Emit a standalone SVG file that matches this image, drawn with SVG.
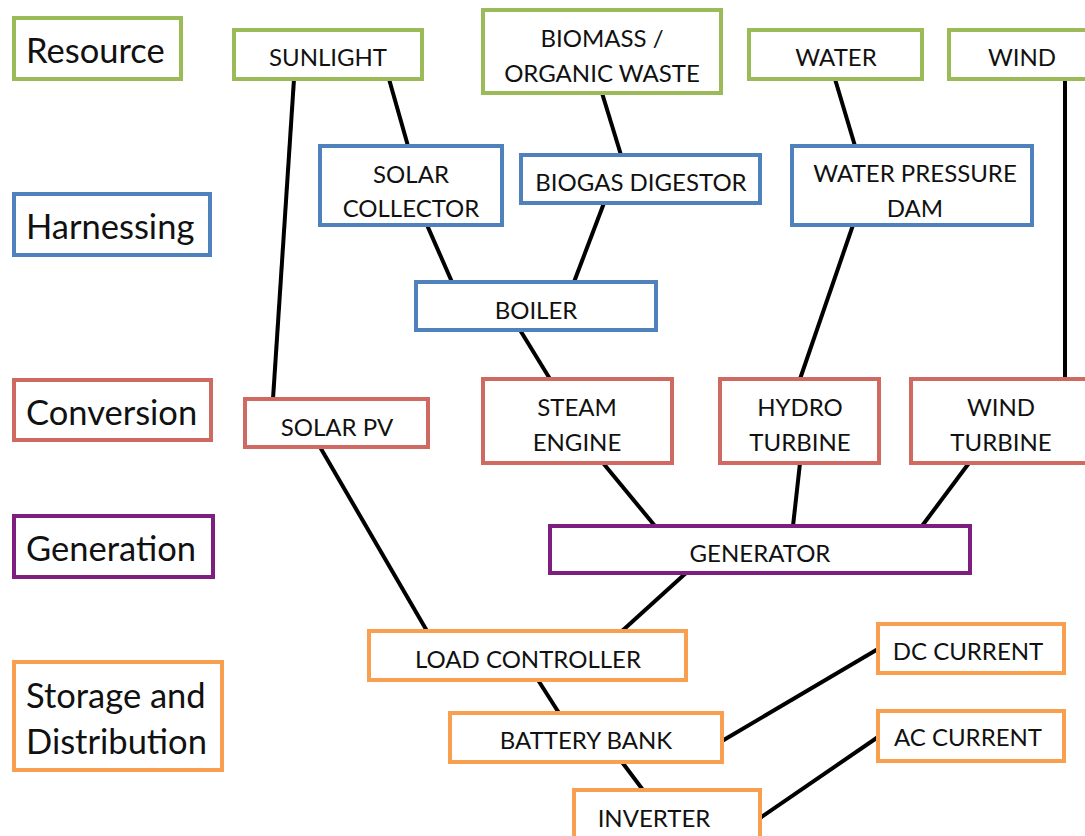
<svg xmlns="http://www.w3.org/2000/svg" width="1085" height="836" viewBox="0 0 1085 836">
<style>
rect{fill:#fff;stroke-width:4}
.g{stroke:#9BBB59}.b{stroke:#4F81BD}.r{stroke:#CF6A62}.p{stroke:#7E1F7F}.o{stroke:#F9A050}
text{font-family:Lato,"Open Sans",sans-serif;fill:#111;text-anchor:middle}
.c{font-size:34.5px;text-anchor:start}
.n{font-size:24px}
#connectors line{stroke:#000;stroke-width:4}
</style>
<rect width="1085" height="836" style="fill:#fff;stroke:none"/>
<g id="connectors">
<line x1="294" y1="79" x2="273" y2="399"/>
<line x1="389" y1="79" x2="408" y2="146"/>
<line x1="602" y1="93" x2="621" y2="155"/>
<line x1="835" y1="79" x2="855" y2="146"/>
<line x1="1065" y1="79" x2="1065" y2="379"/>
<line x1="427" y1="225" x2="452" y2="282"/>
<line x1="604" y1="203" x2="574" y2="282"/>
<line x1="520" y1="330" x2="550" y2="379"/>
<line x1="853" y1="225" x2="800" y2="379"/>
<line x1="603" y1="463" x2="655" y2="526"/>
<line x1="800" y1="463" x2="793" y2="526"/>
<line x1="969" y1="463" x2="922" y2="526"/>
<line x1="320" y1="447" x2="427" y2="631"/>
<line x1="686" y1="573" x2="622" y2="631"/>
<line x1="538" y1="680" x2="559" y2="713"/>
<line x1="722" y1="741" x2="878" y2="649"/>
<line x1="622" y1="762" x2="643" y2="790"/>
<line x1="760" y1="818" x2="878" y2="737"/>
</g>
<g id="cat-resource"><rect class="g" x="14" y="18" width="167" height="61"/><text class="c" x="26" y="63">Resource</text></g>
<g id="cat-harnessing"><rect class="b" x="14" y="194" width="196" height="61"/><text class="c" x="26" y="239">Harnessing</text></g>
<g id="cat-conversion"><rect class="r" x="14" y="380" width="197" height="60"/><text class="c" x="26" y="425">Conversion</text></g>
<g id="cat-generation"><rect class="p" x="14" y="516" width="199" height="61"/><text class="c" x="26" y="561">Generation</text></g>
<g id="cat-storage"><rect class="o" x="14" y="662" width="208" height="108"/><text class="c" x="26" y="708">Storage and</text><text class="c" x="26" y="754">Distribution</text></g>

<g id="sunlight"><rect class="g" x="234" y="30" width="188" height="49"/><text class="n" x="328" y="66">SUNLIGHT</text></g>
<g id="biomass"><rect class="g" x="483" y="10" width="238" height="83"/><text class="n" x="602" y="47">BIOMASS /</text><text class="n" x="602" y="82">ORGANIC WASTE</text></g>
<g id="water"><rect class="g" x="749" y="30" width="173" height="49"/><text class="n" x="836" y="66">WATER</text></g>
<g id="wind"><rect class="g" x="949" y="30" width="146" height="49"/><text class="n" x="1022" y="66">WIND</text></g>

<g id="solar-collector"><rect class="b" x="320" y="146" width="182" height="79"/><text class="n" x="411" y="183">SOLAR</text><text class="n" x="411" y="217">COLLECTOR</text></g>
<g id="biogas"><rect class="b" x="521" y="155" width="239" height="48"/><text class="n" x="641" y="191">BIOGAS DIGESTOR</text></g>
<g id="dam"><rect class="b" x="792" y="146" width="240" height="79"/><text class="n" x="915" y="182">WATER PRESSURE</text><text class="n" x="915" y="217">DAM</text></g>
<g id="boiler"><rect class="b" x="416" y="282" width="240" height="48"/><text class="n" x="536" y="319">BOILER</text></g>

<g id="solar-pv"><rect class="r" x="245" y="399" width="183" height="48"/><text class="n" x="337" y="436">SOLAR PV</text></g>
<g id="steam-engine"><rect class="r" x="483" y="379" width="189" height="84"/><text class="n" x="577" y="416">STEAM</text><text class="n" x="577" y="451">ENGINE</text></g>
<g id="hydro-turbine"><rect class="r" x="720" y="379" width="159" height="84"/><text class="n" x="800" y="416">HYDRO</text><text class="n" x="800" y="451">TURBINE</text></g>
<g id="wind-turbine"><rect class="r" x="911" y="379" width="184" height="84"/><text class="n" x="1001" y="416">WIND</text><text class="n" x="1001" y="451">TURBINE</text></g>

<g id="generator"><rect class="p" x="550" y="526" width="420" height="47"/><text class="n" x="760" y="562">GENERATOR</text></g>

<g id="load-controller"><rect class="o" x="369" y="631" width="317" height="49"/><text class="n" x="528" y="668">LOAD CONTROLLER</text></g>
<g id="battery-bank"><rect class="o" x="450" y="713" width="272" height="49"/><text class="n" x="586" y="749">BATTERY BANK</text></g>
<g id="inverter"><rect class="o" x="574" y="790" width="186" height="56"/><text class="n" x="654" y="827">INVERTER</text></g>
<g id="dc-current"><rect class="o" x="878" y="624" width="186" height="49"/><text class="n" x="968" y="660">DC CURRENT</text></g>
<g id="ac-current"><rect class="o" x="878" y="711" width="186" height="50"/><text class="n" x="968" y="746">AC CURRENT</text></g>
</svg>
